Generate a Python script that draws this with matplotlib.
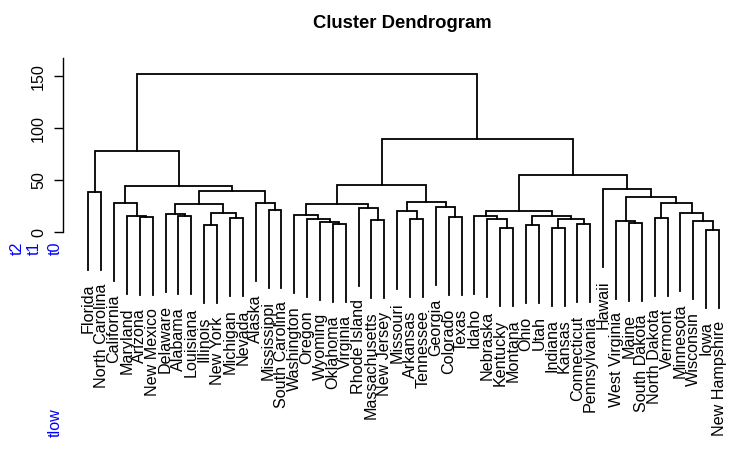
import matplotlib
matplotlib.use("Agg")
import matplotlib.pyplot as plt

plt.rcParams['font.family'] = ['Liberation Sans', 'DejaVu Sans']

# leaf order (left to right)
labels = ["Florida", "North Carolina", "California", "Maryland", "Arizona",
          "New Mexico", "Delaware", "Alabama", "Louisiana", "Illinois",
          "New York", "Michigan", "Nevada", "Alaska", "Mississippi",
          "South Carolina", "Washington", "Oregon", "Wyoming", "Oklahoma",
          "Virginia", "Rhode Island", "Massachusetts", "New Jersey", "Missouri",
          "Arkansas", "Tennessee", "Georgia", "Colorado", "Texas", "Idaho",
          "Nebraska", "Kentucky", "Montana", "Ohio", "Utah", "Indiana", "Kansas",
          "Connecticut", "Pennsylvania", "Hawaii", "West Virginia", "Maine",
          "South Dakota", "North Dakota", "Vermont", "Minnesota", "Wisconsin",
          "Iowa", "New Hampshire"]

# merges: strings are leaves, integers are earlier merges (1-based)
merge_a = ["Iowa", "Kentucky", "Indiana", "Illinois", "Ohio", "Connecticut",
           "Oklahoma", "Maine", "Wyoming", "Wisconsin", "West Virginia",
           "Massachusetts", "Oregon", "Arkansas", "Nebraska", 3, "Michigan",
           "North Dakota", "Arizona", "Colorado", "Alabama", "Maryland", "Idaho",
           5, "Washington", "Delaware", 4, "Minnesota", "Missouri", 23,
           "Mississippi", "Rhode Island", "Georgia", 26, 25, "California",
           "Alaska", 18, 29, 11, "Florida", 34, "Hawaii", 36, 35, 30, 41, 45, 47]
merge_b = ["New Hampshire", "Montana", "Kansas", "New York", "Utah",
           "Pennsylvania", "Virginia", "South Dakota", 7, 1, 8, "New Jersey", 9,
           "Tennessee", 2, 6, "Nevada", "Vermont", "New Mexico", "Texas",
           "Louisiana", 19, 15, 16, 13, 21, 17, 10, 14, 24, "South Carolina", 12,
           20, 27, 32, 22, 31, 28, 33, 38, "North Carolina", 37, 40, 42, 39, 43,
           44, 46, 48]
heights = [2.1, 3.8, 3.9, 6.7, 6.7, 7.7, 8.0, 8.7, 10.2, 10.6, 10.6, 11.5,
           12.5, 12.5, 12.5, 13.1, 13.5, 13.5, 14.4, 14.4, 15.4, 15.4, 15.4,
           15.4, 16.6, 17.6, 18.3, 18.9, 20.2, 20.2, 21.2, 23.1, 24.0, 27.2,
           27.2, 27.9, 27.9, 27.9, 28.8, 33.7, 38.5, 39.4, 41.3, 44.5, 45.2,
           54.8, 78.2, 89.4, 152.3]

hang = 0.5 * (max(heights) - min(heights))

fig = plt.figure(figsize=(7.42, 4.59), dpi=100)
ax = fig.add_axes([0.08531, 0.04074, 0.9120, 0.8497])
ax.set_xlim(-1.9445, 50.63)
ax.set_ylim(-200, 175)

leaf_x = {name: i for i, name in enumerate(labels)}
node_x = {}
node_h = {}
lw = 1.3

def child_info(c, h):
    if isinstance(c, str):
        x = leaf_x[c]
        bottom = h - hang
        ax.annotate(c, xy=(x, bottom), xytext=(0, -13), textcoords='offset pixels',
                    rotation=90, ha='center', va='top', fontsize=11.6,
                    annotation_clip=False)
        return x, bottom
    return node_x[c], node_h[c]

for k, (a, b, h) in enumerate(zip(merge_a, merge_b, heights), start=1):
    xa, ya = child_info(a, h)
    xb, yb = child_info(b, h)
    ax.plot([xa, xa, xb, xb], [ya, h, h, yb], color='black', lw=lw,
            solid_joinstyle='miter', clip_on=False)
    node_x[k] = (xa + xb) / 2.0
    node_h[k] = h

for s in ['top', 'right', 'bottom']:
    ax.spines[s].set_visible(False)
ax.spines['left'].set_bounds(0, 167.6)
ax.spines['left'].set_linewidth(1.0)
ax.set_xticks([])
ax.set_yticks([0, 50, 100, 150])
ax.tick_params(axis='y', length=6.5, width=1.0, labelsize=11.6, pad=6,
               labelrotation=90)
for lbl in ax.get_yticklabels():
    lbl.set_va('center')

W, H = 742.0, 459.0
fig.text(402 / W, 1 - 28 / H, "Cluster Dendrogram", ha='center', va='baseline',
         fontsize=13.3, fontweight='bold')
for txt, px, py in [("t2", 17.5, 248.5), ("t1", 34.5, 248.5), ("t0", 55, 248.5),
                    ("tlow", 55, 423)]:
    fig.text(px / W, 1 - py / H, txt, rotation=90, ha='center', va='center',
             fontsize=11.6, color='#0000FF')

fig.savefig("out.png", dpi=100)
